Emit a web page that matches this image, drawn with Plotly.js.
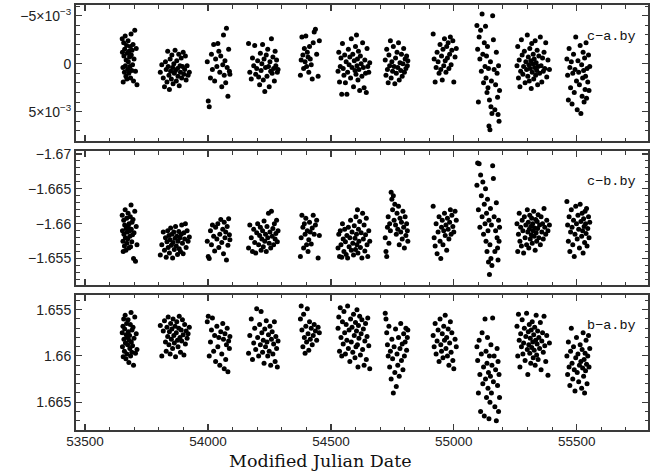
<!DOCTYPE html>
<html><head><meta charset="utf-8">
<script src="https://cdn.plot.ly/plotly-3.0.1.min.js"></script>
<style>html,body{margin:0;padding:0;background:#fff}#chart{width:659px;height:472px}</style>
</head><body><div id="chart"></div>
<script>
// Observation dates (MJD) per season
const d1 = [53651,53652,53654,53655,53657,53658,53660,53661,53663,53664,53666,53667,53669,53670,53672,53673,53675,53676,53678,53679,53681,53682,53684,53685,53687,53688,53690,53691,53693,53695,53697,53699,53702,53705,53708,53711];
const d2 = [53806,53812,53818,53823,53827,53830,53833,53836,53838,53841,53843,53846,53848,53851,53853,53856,53858,53861,53863,53866,53868,53871,53873,53876,53878,53881,53883,53886,53888,53891,53893,53896,53899,53902,53905,53908,53911,53915,53919,53924];
const d3 = [53997,54001,54005,54010,54014,54018,54023,54027,54031,54036,54040,54044,54048,54052,54056,54060,54063,54066,54069,54072,54075,54078,54081,54084,54087,54089];
const d4 = [54165,54170,54176,54181,54186,54190,54194,54198,54202,54206,54210,54213,54216,54219,54222,54225,54228,54231,54234,54237,54240,54243,54246,54249,54252,54255,54258,54261,54264,54267,54270,54273,54276,54279,54282,54285];
const d5 = [54376,54379,54382,54386,54389,54392,54395,54398,54401,54404,54407,54410,54413,54416,54420,54424,54428,54432,54437,54442,54448,54453];
const d6 = [54529,54532,54535,54538,54541,54544,54547,54550,54553,54556,54559,54562,54565,54568,54571,54574,54577,54580,54583,54586,54589,54592,54595,54598,54600,54602,54604,54606,54608,54610,54612,54614,54617,54620,54623,54626,54629,54632,54635,54638,54641,54644,54647,54650,54654,54658];
const d7 = [54721,54724,54727,54730,54733,54736,54739,54742,54745,54748,54751,54754,54757,54760,54763,54766,54769,54772,54775,54778,54781,54784,54787,54790,54793,54796,54799,54802,54805,54808,54811,54813];
const d8 = [54916,54920,54924,54928,54932,54936,54940,54944,54947,54950,54953,54956,54959,54962,54965,54968,54971,54974,54977,54980,54983,54986,54989,54992,54996,55000,55005,55010];
const d9 = [55094,55097,55100,55103,55106,55109,55112,55115,55118,55121,55124,55127,55129,55131,55133,55135,55137,55139,55141,55143,55145,55147,55149,55151,55153,55155,55158,55161,55164,55167,55170,55173,55176,55178,55180,55182,55184,55186];
const d10 = [55257,55260,55263,55266,55269,55272,55275,55278,55281,55284,55287,55290,55293,55296,55299,55301,55303,55305,55307,55309,55311,55313,55315,55317,55319,55321,55323,55325,55327,55329,55331,55333,55335,55337,55339,55341,55343,55346,55349,55352,55355,55358,55361,55364,55367,55370,55374,55378,55383,55389];
const d11 = [55460,55463,55466,55469,55472,55475,55478,55481,55484,55487,55490,55493,55496,55499,55502,55505,55508,55511,55514,55517,55520,55522,55524,55526,55528,55530,55532,55534,55536,55538,55540,55542,55545,55548,55550,55553];

// c-a.by differential magnitudes, in units of 1e-3 mag
const ca1 = [-2.6,-1.2,0.4,1.9,-2.2,-0.8,0.9,-1.5,-2.9,0.2,1.3,-0.4,-1.9,1.6,-1.1,0.6,-2.4,-0.2,1.0,-1.3,-0.7,0.3,-1.8,1.5,-3.1,-0.9,0.7,-1.4,0.1,-2.0,1.8,-0.5,-3.5,0.8,-1.6,2.2];
const ca2 = [0.9,0.1,1.5,2.4,-0.2,0.6,1.9,-1.3,0.3,1.2,2.7,-0.5,0.8,1.6,-0.9,0.4,2.1,0.0,1.0,-1.4,0.7,1.8,-0.3,0.5,1.3,-1.0,2.3,0.2,0.9,-0.6,1.5,0.3,-1.2,1.1,0.6,-0.8,1.7,0.2,1.2,0.9];
const ca3 = [-0.2,3.9,4.5,1.5,-1.0,0.6,-2.0,1.8,-0.5,0.3,-2.1,-1.3,0.9,-0.8,2.4,0.1,-3.0,1.2,-0.3,2.0,-3.7,0.4,3.4,-1.5,0.8,1.1];
const ca4 = [-2.1,0.9,1.6,-0.6,0.2,-1.9,1.1,0.5,-0.3,1.4,2.2,-1.1,0.7,0.0,-2.0,1.7,-0.5,2.9,0.4,-0.9,1.3,-1.5,0.3,2.4,-0.2,0.8,-2.6,1.0,-0.7,0.5,1.8,-1.3,0.2,-0.4,0.9,0.6];
const ca5 = [1.2,-0.4,-2.8,-0.9,0.5,-1.6,-0.2,-2.9,0.3,-1.2,-0.7,0.9,-1.8,-0.5,0.1,1.6,-2.2,-3.3,-3.6,-1.0,1.3,-2.4];
const ca6 = [0.8,-1.2,1.9,0.3,-0.6,3.2,-2.1,0.5,1.2,-0.9,2.0,-0.2,3.2,0.9,-1.5,0.1,-0.7,1.5,-2.6,0.4,-1.0,2.4,-0.3,0.7,-1.8,1.1,-3.0,0.2,-0.5,1.7,-1.3,0.6,2.8,-0.8,0.0,1.3,-2.2,0.4,2.5,-0.4,1.0,3.0,-1.6,0.3,0.9,-0.1];
const ca7 = [-0.4,1.2,-1.5,0.6,2.0,-0.9,0.2,-2.4,1.5,-0.2,0.8,-1.8,0.3,2.1,-0.6,1.0,-1.2,0.4,-2.2,1.7,-0.1,0.7,-1.0,1.3,0.0,-1.6,0.9,-0.5,0.5,-0.8,0.2,-0.3];
const ca8 = [-3.1,-0.5,1.9,0.4,-1.2,-0.2,1.0,-2.0,0.6,-0.8,1.7,-1.5,0.2,-2.6,-0.3,0.9,-1.8,-0.6,-2.2,0.5,-1.0,-2.8,0.1,-1.4,-2.4,1.9,-0.7,-1.6];
const ca9 = [-4.0,-1.5,4.0,-2.8,-0.5,-3.5,0.8,-5.2,-1.0,2.0,-2.2,0.3,-3.9,1.5,-0.8,3.0,-1.8,2.5,0.5,6.5,3.8,6.9,-0.2,4.5,1.8,5.2,-5.0,-2.5,0.6,4.8,2.2,-1.2,1.0,3.5,5.3,0.2,6.0,2.8];
const ca10 = [0.2,-1.8,1.5,-0.4,2.4,0.8,-2.5,-0.9,1.1,0.3,-1.3,2.0,-0.2,0.6,-3.0,1.3,-0.7,0.1,1.8,-1.6,0.5,-0.3,2.6,-2.1,0.9,0.0,-1.0,1.6,-0.5,0.4,-2.4,1.2,-0.1,0.7,-1.4,2.2,0.3,-0.8,1.0,-2.8,0.2,1.9,-0.6,0.8,-1.2,0.5,-2.2,1.4,-0.4,0.6];
const ca11 = [-0.5,1.2,3.8,-1.6,0.4,2.5,-0.2,4.2,1.0,-1.0,3.0,0.6,-2.8,1.8,4.8,-0.3,0.9,2.2,-1.9,5.2,0.1,3.4,1.5,-1.2,0.7,4.0,-0.6,2.7,1.3,-2.2,3.6,0.5,1.9,-0.9,2.8,0.3];

// c-b.by
const cb1 = [-1.6612,-1.6590,-1.6575,-1.6560,-1.6605,-1.6585,-1.6568,-1.6598,-1.6620,-1.6580,-1.6562,-1.6593,-1.6608,-1.6572,-1.6588,-1.6578,-1.6615,-1.6595,-1.6565,-1.6600,-1.6590,-1.6582,-1.6610,-1.6567,-1.6627,-1.6592,-1.6574,-1.6602,-1.6584,-1.6606,-1.6550,-1.6587,-1.6618,-1.6546,-1.6596,-1.6570];
const cb2 = [-1.6555,-1.6570,-1.6588,-1.6562,-1.6580,-1.6552,-1.6574,-1.6590,-1.6566,-1.6583,-1.6558,-1.6577,-1.6594,-1.6569,-1.6585,-1.6551,-1.6573,-1.6588,-1.6563,-1.6579,-1.6596,-1.6568,-1.6582,-1.6556,-1.6575,-1.6589,-1.6564,-1.6580,-1.6560,-1.6585,-1.6598,-1.6572,-1.6557,-1.6587,-1.6578,-1.6600,-1.6566,-1.6590,-1.6575,-1.6581];
const cb3 = [-1.6575,-1.6553,-1.6550,-1.6590,-1.6570,-1.6598,-1.6582,-1.6561,-1.6595,-1.6578,-1.6600,-1.6566,-1.6585,-1.6606,-1.6573,-1.6592,-1.6557,-1.6602,-1.6580,-1.6588,-1.6548,-1.6596,-1.6569,-1.6607,-1.6584,-1.6577];
const cb4 = [-1.6565,-1.6598,-1.6580,-1.6560,-1.6592,-1.6573,-1.6558,-1.6587,-1.6600,-1.6570,-1.6583,-1.6595,-1.6562,-1.6578,-1.6590,-1.6567,-1.6604,-1.6575,-1.6585,-1.6560,-1.6596,-1.6580,-1.6615,-1.6572,-1.6588,-1.6565,-1.6618,-1.6582,-1.6593,-1.6570,-1.6600,-1.6578,-1.6586,-1.6605,-1.6574,-1.6590];
const cb5 = [-1.6553,-1.6580,-1.6612,-1.6595,-1.6565,-1.6600,-1.6585,-1.6608,-1.6570,-1.6590,-1.6560,-1.6577,-1.6602,-1.6588,-1.6571,-1.6594,-1.6612,-1.6585,-1.6598,-1.6605,-1.6551,-1.6583];
const cb6 = [-1.6565,-1.6585,-1.6553,-1.6590,-1.6570,-1.6552,-1.6600,-1.6578,-1.6560,-1.6592,-1.6574,-1.6556,-1.6583,-1.6551,-1.6595,-1.6567,-1.6580,-1.6605,-1.6562,-1.6588,-1.6572,-1.6555,-1.6597,-1.6579,-1.6563,-1.6610,-1.6585,-1.6570,-1.6620,-1.6558,-1.6592,-1.6575,-1.6603,-1.6566,-1.6587,-1.6551,-1.6615,-1.6578,-1.6598,-1.6561,-1.6584,-1.6608,-1.6570,-1.6553,-1.6590,-1.6575];
const cb7 = [-1.6580,-1.6560,-1.6553,-1.6595,-1.6610,-1.6572,-1.6600,-1.6590,-1.6645,-1.6635,-1.6620,-1.6640,-1.6605,-1.6628,-1.6598,-1.6585,-1.6615,-1.6592,-1.6625,-1.6570,-1.6608,-1.6588,-1.6602,-1.6578,-1.6618,-1.6595,-1.6565,-1.6610,-1.6583,-1.6600,-1.6590,-1.6575];
const cb8 = [-1.6625,-1.6580,-1.6568,-1.6600,-1.6557,-1.6588,-1.6610,-1.6575,-1.6550,-1.6595,-1.6605,-1.6570,-1.6590,-1.6615,-1.6583,-1.6598,-1.6562,-1.6608,-1.6592,-1.6578,-1.6602,-1.6620,-1.6585,-1.6612,-1.6596,-1.6588,-1.6618,-1.6605];
const cb9 = [-1.6655,-1.6687,-1.6620,-1.6686,-1.6595,-1.6670,-1.6640,-1.6610,-1.6660,-1.6585,-1.6628,-1.6600,-1.6650,-1.6575,-1.6615,-1.6560,-1.6635,-1.6590,-1.6545,-1.6605,-1.6527,-1.6570,-1.6622,-1.6550,-1.6598,-1.6540,-1.6683,-1.6665,-1.6610,-1.6560,-1.6590,-1.6630,-1.6580,-1.6565,-1.6548,-1.6605,-1.6575,-1.6595];
const cb10 = [-1.6600,-1.6560,-1.6585,-1.6615,-1.6575,-1.6595,-1.6568,-1.6605,-1.6590,-1.6558,-1.6610,-1.6580,-1.6598,-1.6570,-1.6620,-1.6588,-1.6602,-1.6565,-1.6592,-1.6612,-1.6578,-1.6596,-1.6584,-1.6608,-1.6572,-1.6600,-1.6590,-1.6618,-1.6582,-1.6594,-1.6562,-1.6606,-1.6587,-1.6575,-1.6603,-1.6593,-1.6613,-1.6580,-1.6598,-1.6570,-1.6610,-1.6588,-1.6600,-1.6578,-1.6622,-1.6595,-1.6585,-1.6605,-1.6590,-1.6598];
const cb11 = [-1.6632,-1.6598,-1.6575,-1.6610,-1.6560,-1.6588,-1.6620,-1.6595,-1.6570,-1.6605,-1.6553,-1.6585,-1.6625,-1.6600,-1.6578,-1.6612,-1.6592,-1.6565,-1.6628,-1.6603,-1.6582,-1.6615,-1.6590,-1.6558,-1.6607,-1.6596,-1.6573,-1.6618,-1.6600,-1.6586,-1.6622,-1.6568,-1.6593,-1.6610,-1.6580,-1.6602];

// b-a.by
const ba1 = [1.6575,1.6590,1.6568,1.6601,1.6560,1.6582,1.6595,1.6571,1.6556,1.6586,1.6603,1.6577,1.6565,1.6598,1.6580,1.6588,1.6561,1.6574,1.6607,1.6583,1.6578,1.6592,1.6566,1.6600,1.6553,1.6585,1.6596,1.6572,1.6589,1.6569,1.6610,1.6581,1.6558,1.6597,1.6576,1.6593];
const ba2 = [1.6567,1.6600,1.6573,1.6562,1.6585,1.6595,1.6569,1.6579,1.6558,1.6588,1.6574,1.6598,1.6565,1.6582,1.6571,1.6592,1.6560,1.6578,1.6586,1.6568,1.6601,1.6575,1.6563,1.6583,1.6590,1.6570,1.6557,1.6580,1.6596,1.6572,1.6584,1.6561,1.6577,1.6599,1.6566,1.6587,1.6573,1.6581,1.6576,1.6569];
const ba3 = [1.6563,1.6557,1.6600,1.6585,1.6572,1.6559,1.6595,1.6578,1.6606,1.6568,1.6590,1.6580,1.6610,1.6574,1.6598,1.6565,1.6582,1.6614,1.6576,1.6604,1.6588,1.6570,1.6617,1.6584,1.6592,1.6579];
const ba4 = [1.6597,1.6578,1.6560,1.6604,1.6586,1.6570,1.6593,1.6549,1.6580,1.6600,1.6566,1.6588,1.6552,1.6575,1.6596,1.6583,1.6608,1.6571,1.6590,1.6562,1.6585,1.6600,1.6577,1.6595,1.6568,1.6610,1.6582,1.6574,1.6598,1.6587,1.6563,1.6606,1.6579,1.6592,1.6612,1.6584];
const ba5 = [1.6560,1.6546,1.6572,1.6590,1.6555,1.6580,1.6597,1.6568,1.6585,1.6549,1.6576,1.6594,1.6563,1.6582,1.6570,1.6588,1.6578,1.6566,1.6573,1.6583,1.6569,1.6575];
const ba6 = [1.6570,1.6558,1.6595,1.6548,1.6580,1.6600,1.6563,1.6587,1.6552,1.6575,1.6598,1.6566,1.6583,1.6546,1.6592,1.6572,1.6606,1.6560,1.6585,1.6569,1.6596,1.6555,1.6578,1.6602,1.6564,1.6590,1.6573,1.6550,1.6588,1.6612,1.6567,1.6581,1.6557,1.6599,1.6576,1.6561,1.6593,1.6571,1.6610,1.6584,1.6565,1.6604,1.6579,1.6559,1.6589,1.6614];
const ba7 = [1.6554,1.6560,1.6575,1.6588,1.6600,1.6568,1.6612,1.6595,1.6625,1.6582,1.6603,1.6640,1.6590,1.6618,1.6571,1.6633,1.6598,1.6610,1.6580,1.6622,1.6592,1.6565,1.6605,1.6587,1.6615,1.6576,1.6600,1.6585,1.6570,1.6594,1.6580,1.6572];
const ba8 = [1.6578,1.6590,1.6565,1.6598,1.6584,1.6572,1.6606,1.6560,1.6588,1.6595,1.6576,1.6602,1.6568,1.6583,1.6556,1.6592,1.6580,1.6600,1.6571,1.6610,1.6586,1.6563,1.6596,1.6575,1.6605,1.6614,1.6582,1.6590];
const ba9 = [1.6590,1.6605,1.6640,1.6583,1.6620,1.6660,1.6598,1.6575,1.6630,1.6612,1.6665,1.6560,1.6625,1.6595,1.6645,1.6608,1.6580,1.6635,1.6618,1.6668,1.6600,1.6650,1.6622,1.6588,1.6640,1.6610,1.6559,1.6628,1.6600,1.6655,1.6615,1.6670,1.6592,1.6632,1.6606,1.6660,1.6620,1.6645];
const ba10 = [1.6568,1.6600,1.6555,1.6583,1.6612,1.6576,1.6590,1.6561,1.6598,1.6586,1.6570,1.6605,1.6579,1.6554,1.6593,1.6620,1.6574,1.6588,1.6566,1.6597,1.6581,1.6608,1.6572,1.6591,1.6563,1.6585,1.6602,1.6577,1.6594,1.6569,1.6610,1.6583,1.6556,1.6599,1.6587,1.6573,1.6604,1.6580,1.6592,1.6564,1.6615,1.6584,1.6575,1.6596,1.6557,1.6589,1.6606,1.6578,1.6621,1.6586];
const ba11 = [1.6600,1.6620,1.6585,1.6612,1.6632,1.6595,1.6570,1.6608,1.6625,1.6590,1.6615,1.6638,1.6602,1.6580,1.6618,1.6598,1.6628,1.6610,1.6588,1.6606,1.6635,1.6593,1.6613,1.6575,1.6622,1.6604,1.6640,1.6597,1.6616,1.6583,1.6609,1.6630,1.6600,1.6578,1.6612,1.6592];

const panelLabels = ["c\u2212a.by", "c\u2212b.by", "b\u2212a.by"];
const xTickVals = [53500, 54000, 54500, 55000, 55500];
const xTickText = ["53500", "54000", "54500", "55000", "55500"];
const caTickVals = [-5, 0, 5];
const caTickText = ["\u22125\u00d710<sup>\u22123</sup>", "0", "5\u00d710<sup>\u22123</sup>"];
const cbTickVals = [-1.67, -1.665, -1.66, -1.655];
const cbTickText = ["\u22121.67", "\u22121.665", "\u22121.66", "\u22121.655"];
const baTickVals = [1.655, 1.66, 1.665];
const baTickText = ["1.655", "1.66", "1.665"];

const mjd = [].concat(d1,d2,d3,d4,d5,d6,d7,d8,d9,d10,d11);
const ca = [].concat(ca1,ca2,ca3,ca4,ca5,ca6,ca7,ca8,ca9,ca10,ca11);
const cb = [].concat(cb1,cb2,cb3,cb4,cb5,cb6,cb7,cb8,cb9,cb10,cb11);
const ba = [].concat(ba1,ba2,ba3,ba4,ba5,ba6,ba7,ba8,ba9,ba10,ba11);

const mk = {color: '#000', size: 5};
const traces = [
  {x: mjd, y: ca, xaxis: 'x', yaxis: 'y', mode: 'markers', type: 'scatter', marker: mk},
  {x: mjd, y: cb, xaxis: 'x2', yaxis: 'y2', mode: 'markers', type: 'scatter', marker: mk},
  {x: mjd, y: ba, xaxis: 'x3', yaxis: 'y3', mode: 'markers', type: 'scatter', marker: mk}
];

const frame = {showline: true, linewidth: 2, linecolor: '#3a3a3a', mirror: 'allticks',
  ticks: 'inside', ticklen: 6, tickwidth: 1.2, tickcolor: '#3a3a3a', showgrid: false, zeroline: false,
  tickfont: {family: 'Liberation Sans, Arial, sans-serif', size: 14, color: '#222'}};
const xRange = [53463, 55790];
function xax(anchor, labels) {
  return Object.assign({}, frame, {anchor: anchor, range: xRange, tickmode: 'array', tickvals: xTickVals, ticktext: xTickText,
    showticklabels: labels, ticklabelstandoff: -2,
    tickfont: {family: 'Liberation Sans, Arial, sans-serif', size: 13.5, color: '#222'},
    minor: {dtick: 100, tick0: 53500, ticks: 'inside', ticklen: 3.5, tickcolor: '#3a3a3a', tickwidth: 1}});
}
function yax(anchor, dom, range, tv, tt, minorStep) {
  return Object.assign({}, frame, {anchor: anchor, domain: dom, range: range, tickmode: 'array', tickvals: tv, ticktext: tt,
    minor: {dtick: minorStep, tick0: 0, ticks: 'inside', ticklen: 3.5, tickcolor: '#3a3a3a', tickwidth: 1}});
}
const labelFont = {family: 'Liberation Mono, Courier New, monospace', size: 13.5, color: '#111'};

const layout = {
  width: 659, height: 472, showlegend: false,
  margin: {l: 76, r: 11, t: 5, b: 42},
  paper_bgcolor: '#fff', plot_bgcolor: '#fff',
  xaxis: xax('y', false),
  xaxis2: xax('y2', false),
  xaxis3: xax('y3', true),
  yaxis: yax('x', [0.68, 1], [8.07, -6.13], caTickVals, caTickText, 1),
  yaxis2: yax('x2', [0.341, 0.656], [-1.6512, -1.6704], cbTickVals, cbTickText, 0.001),
  yaxis3: yax('x3', [0, 0.318], [1.66801, 1.6534], baTickVals, baTickText, 0.001),
  annotations: [
    {text: panelLabels[0], xref: 'paper', yref: 'paper', x: 0.9825, y: 0.925, xanchor: 'right', yanchor: 'middle', showarrow: false, font: labelFont},
    {text: panelLabels[1], xref: 'paper', yref: 'paper', x: 0.9825, y: 0.584, xanchor: 'right', yanchor: 'middle', showarrow: false, font: labelFont},
    {text: panelLabels[2], xref: 'paper', yref: 'paper', x: 0.9825, y: 0.245, xanchor: 'right', yanchor: 'middle', showarrow: false, font: labelFont},
    {text: 'Modified Julian Date', xref: 'paper', yref: 'paper', x: 0.4266, y: -0.0725, xanchor: 'center', yanchor: 'middle', showarrow: false,
     borderpad: 0, font: {family: 'DejaVu Serif, serif', size: 17.5, color: '#111'}}
  ]
};
Plotly.newPlot('chart', traces, layout, {staticPlot: true, displayModeBar: false});
</script>
</body></html>
